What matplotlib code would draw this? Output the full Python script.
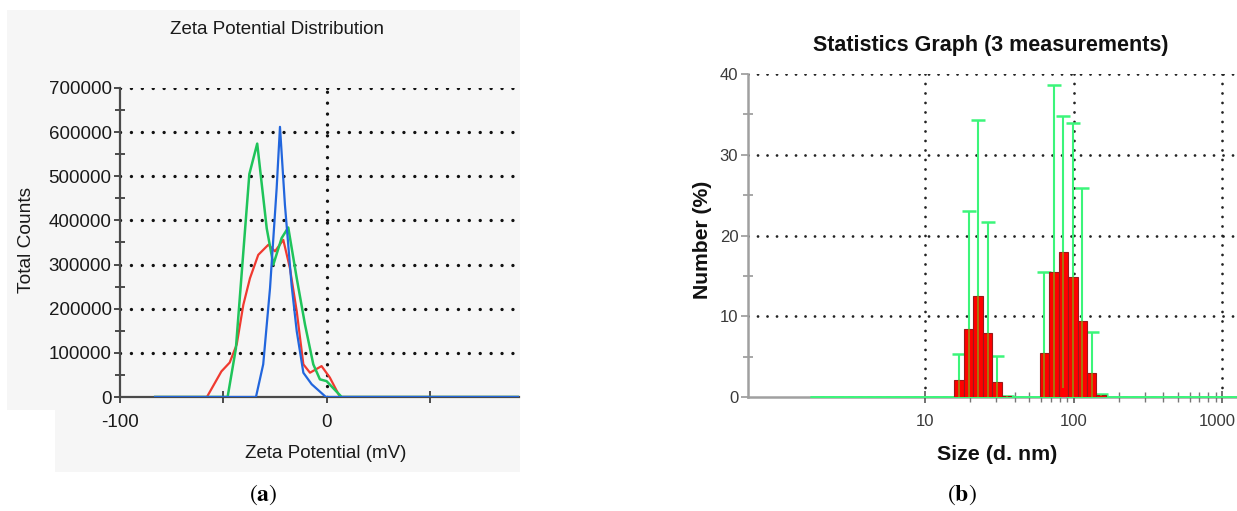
import numpy as np
import matplotlib
matplotlib.use("Agg")
import matplotlib.pyplot as plt
from matplotlib.patches import Rectangle
from matplotlib.transforms import ScaledTranslation

plt.rcParams["font.family"] = ["Liberation Sans", "DejaVu Sans"]
plt.rcParams["mathtext.fontset"] = "stix"

# ---- (a) zeta potential distribution: three measurements (mV, total counts)
red_mv = [-83, -58, -51, -47, -43.6, -40.4, -37.2, -33.2, -28.3, -25.1, -21.1,
          -17.9, -14.6, -11.4, -8.2, -2.6, 1.4, 6.3, 92.8]
red_counts = [0, 0, 58000, 78000, 119000, 209000, 269000, 322000, 345000, 330000,
              356000, 292000, 194000, 74000, 55000, 70000, 44000, 0, 0]

green_mv = [-83, -48, -44, -37.5, -33.7, -29.1, -25.9, -21.9, -18.7, -14.6,
            -10.6, -6.6, -3.4, -0.2, 7.1, 92.8]
green_counts = [0, 0, 110000, 505000, 574000, 382000, 300000, 360000, 384000,
                269000, 164000, 74000, 40000, 36000, 0, 0]

blue_mv = [-83, -34.3, -30.8, -27.5, -24.3, -22.7, -20.3, -17.1, -14.6, -11.4,
           -7.4, -0.5, 92.8]
blue_counts = [0, 0, 74000, 247000, 473000, 612000, 435000, 254000, 149000,
               55000, 29000, 0, 0]

zeta_yticks = [0, 100000, 200000, 300000, 400000, 500000, 600000, 700000]
zeta_xticks = [-100, 0]

# ---- (b) size statistics: number distribution, mean and standard deviation per size class
size_nm = [1.736, 2.010, 2.328, 2.696, 3.122, 3.615, 4.187, 4.849, 5.615, 6.503,
           7.531, 8.721, 10.10, 11.70, 13.54, 15.69, 18.17, 21.04, 24.36, 28.21,
           32.67, 37.84, 43.82, 50.75, 58.77, 68.06, 78.82, 91.28, 105.7, 122.4,
           141.8, 164.2, 190.1, 220.2, 255.0, 295.3, 342.0, 396.1, 458.7, 531.2,
           615.1, 712.4, 825.0, 955.4, 1106, 1281]
number_pct = [0, 0, 0, 0, 0, 0, 0, 0, 0, 0,
              0, 0, 0, 0, 0, 2.1, 8.5, 12.5, 7.9, 1.9,
              0.1, 0, 0, 0, 5.5, 15.5, 18.0, 14.9, 9.5, 3.0,
              0.3, 0, 0, 0, 0, 0, 0, 0, 0, 0,
              0, 0, 0, 0, 0, 0]
number_sd = [0, 0, 0, 0, 0, 0, 0, 0, 0, 0,
             0, 0, 0, 0, 0, 3.3, 14.5, 21.8, 13.8, 3.2,
             0.06, 0, 0, 0, 10.0, 23.1, 16.8, 19.0, 16.4, 5.1,
             0.1, 0, 0, 0, 0, 0, 0, 0, 0, 0,
             0, 0, 0, 0, 0, 0]
size_xticks = [10, 100, 1000]
size_minor = [20, 30, 40, 50, 60, 70, 80, 90, 200, 300, 400, 500, 600, 700, 800, 900]
number_yticks = [0, 10, 20, 30, 40]

W, H = 1237, 511
fig = plt.figure(figsize=(W / 100, H / 100), dpi=100)
fig.patch.set_facecolor("white")

# light grey backdrop behind panel (a)
for (x0, y0, x1, y1) in [(7, 10, 520, 410), (55, 400, 520, 472)]:
    fig.patches.append(Rectangle((x0 / W, 1 - y1 / H), (x1 - x0) / W, (y1 - y0) / H,
                                 transform=fig.transFigure, facecolor="#f6f6f6",
                                 edgecolor="none", zorder=-10))

# ================= panel (a)
ax1 = fig.add_axes([120 / W, 1 - 397 / H, 399 / W, 309 / H])
ax1.set_facecolor("none")
ax1.set_xlim(-100, 92.8)
ax1.set_ylim(0, 700000)
for s in ("top", "right"):
    ax1.spines[s].set_visible(False)
for s in ("left", "bottom"):
    ax1.spines[s].set_color("#4a4a4a")
    ax1.spines[s].set_linewidth(1.6)

# dot pattern (dash lengths are in units of the line width)
lw_a = 2.4
dot_a = (0, (0.02, 7.8 / lw_a))
for yv in zeta_yticks[1:]:
    ax1.axhline(yv, color="#111111", lw=lw_a, ls=dot_a, dash_capstyle="round", zorder=1)
ax1.axvline(0, color="#111111", lw=lw_a, ls=dot_a, dash_capstyle="round", zorder=1)

ax1.plot(red_mv, red_counts, color="#f03a30", lw=1.6, zorder=3)
ax1.plot(green_mv, green_counts, color="#1fc45a", lw=1.8, zorder=4)
ax1.plot(blue_mv, blue_counts, color="#2266dd", lw=1.6, zorder=5)

ax1.set_yticks(zeta_yticks)
ax1.set_yticklabels([str(v) for v in zeta_yticks])
ax1.set_yticks(np.arange(50000, 700000, 100000), minor=True)
ax1.set_xticks(zeta_xticks)
ax1.set_xticklabels([str(v) for v in zeta_xticks])
ax1.set_xticks([-50, 50], minor=True)
ax1.tick_params(axis="y", which="major", direction="out", length=4, width=1.4,
                color="#4a4a4a", labelsize=13.5, labelcolor="#1a1a1a", pad=2)
ax1.tick_params(axis="y", which="minor", direction="inout", length=7, width=1.4,
                color="#4a4a4a")
ax1.tick_params(axis="x", which="major", direction="out", length=4, width=1.4,
                color="#4a4a4a", labelsize=13.5, labelcolor="#1a1a1a", pad=8)
ax1.tick_params(axis="x", which="minor", direction="inout", length=8, width=1.4,
                color="#4a4a4a")

fig.text(277 / W, 1 - 29 / H, "Zeta Potential Distribution", ha="center",
         va="center", fontsize=13.5, color="#1a1a1a")
fig.text(326 / W, 1 - 454 / H, "Zeta Potential (mV)", ha="center", va="center",
         fontsize=13.5, color="#1a1a1a")
fig.text(27 / W, 1 - 240 / H, "Total Counts", ha="center", va="center",
         rotation=90, fontsize=13.8, color="#1a1a1a")
fig.text(263 / W, 1 - 495 / H, r"$(\mathbf{a})$", ha="center", va="center",
         fontsize=17, color="black")

# ================= panel (b)
ax2 = fig.add_axes([748 / W, 1 - 397.3 / H, (W - 748) / W, 323.3 / H])
ax2.set_facecolor("none")
ax2.set_xscale("log")
ax2.set_xlim(0.639, 1253)
ax2.set_ylim(0, 40)
for s in ("top", "right"):
    ax2.spines[s].set_visible(False)
for s in ("left", "bottom"):
    ax2.spines[s].set_color("#a0a0a0")
    ax2.spines[s].set_linewidth(1.8)
ax2.spines["bottom"].set_zorder(1)

lw_b = 2.0
dot_b = (0, (0.02, 6.8 / lw_b))
for yv in number_yticks[1:]:
    ax2.axhline(yv, color="#222222", lw=lw_b, ls=dot_b, dash_capstyle="round", zorder=1)
for xv in size_xticks:
    ax2.axvline(xv, color="#222222", lw=lw_b, ls=dot_b, dash_capstyle="round", zorder=1)

sizes = np.array(size_nm)
vals = np.array(number_pct)
sds = np.array(number_sd)
edges_right = np.append(sizes[1:], sizes[-1] * sizes[-1] / sizes[-2])
centers = np.sqrt(sizes * edges_right)
lower = np.minimum(sds, vals)

ax2.errorbar(centers, vals, yerr=[lower, sds], fmt="none", ecolor="#3cf57a",
             elinewidth=1.5, capsize=5, capthick=1.8, zorder=2)
nz = vals > 0
ax2.bar(sizes[nz], vals[nz], width=(edges_right - sizes)[nz], align="edge",
        color="#ff0000", edgecolor="#9a1a1a", linewidth=0.8, zorder=3)
ax2.vlines(centers[nz], (vals - lower)[nz], vals[nz], color="#9a8a10", lw=1.2,
           zorder=4)

ax2.set_xticks(size_xticks)
ax2.set_xticklabels([str(v) for v in size_xticks])
ax2.set_xticks(size_minor, minor=True)
ax2.xaxis.set_minor_formatter(matplotlib.ticker.NullFormatter())
ax2.set_yticks(number_yticks)
ax2.set_yticklabels([str(v) for v in number_yticks])
ax2.set_yticks([5, 15, 25, 35], minor=True)
ax2.tick_params(axis="y", which="major", direction="out", length=5, width=1.3,
                color="#a0a0a0", labelsize=12, labelcolor="#3a3a3a", pad=2)
ax2.tick_params(axis="y", which="minor", direction="inout", length=7, width=1.3,
                color="#a0a0a0")
ax2.tick_params(axis="x", which="major", direction="inout", length=8, width=1.3,
                color="#666666", labelsize=12, labelcolor="#3a3a3a", pad=8)
ax2.tick_params(axis="x", which="minor", direction="inout", length=7, width=1.0,
                color="#777777")
# keep the last decade label inside the canvas
last = ax2.get_xticklabels()[-1]
last.set_transform(last.get_transform() + ScaledTranslation(-5 / 100, 0, fig.dpi_scale_trans))

fig.text(991 / W, 1 - 45 / H, "Statistics Graph (3 measurements)", ha="center",
         va="center", fontsize=15.5, fontweight="bold", color="#111111")
fig.text(997 / W, 1 - 454 / H, "Size (d. nm)", ha="center", va="center",
         fontsize=15.4, fontweight="bold", color="#111111")
fig.text(703 / W, 1 - 240 / H, "Number (%)", ha="center", va="center",
         rotation=90, fontsize=15.2, fontweight="bold", color="#111111")
fig.text(962 / W, 1 - 495 / H, r"$(\mathbf{b})$", ha="center", va="center",
         fontsize=17, color="black")

fig.savefig("out.png", dpi=100)
